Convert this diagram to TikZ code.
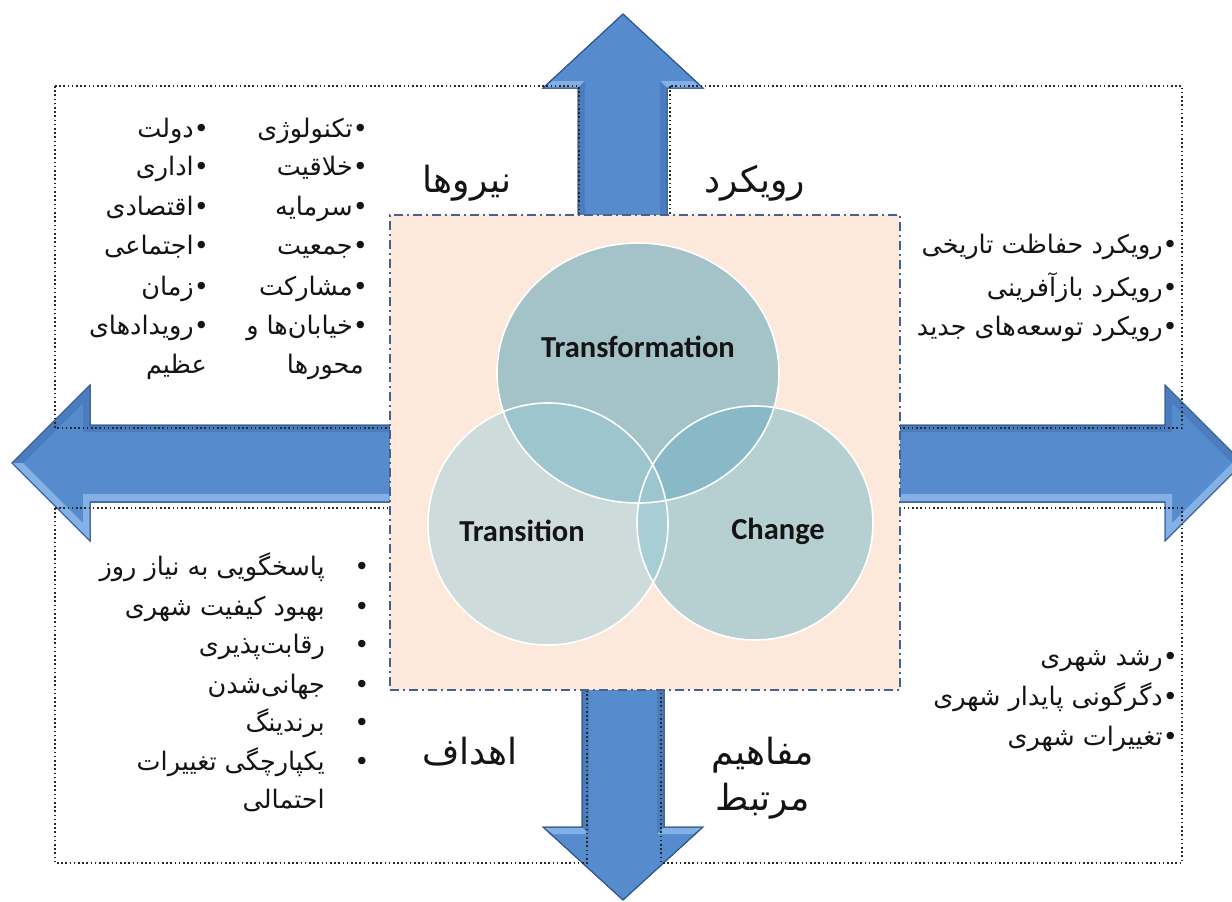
\documentclass[tikz,border=0pt]{standalone}
\usepackage{fontspec}
\usetikzlibrary{shapes.geometric}
\TeXXeTstate=1
\newfontfamily\fa[Script=Arabic]{DejaVu Sans}
\newfontfamily\lat{Carlito}
\newcommand\RL[1]{\beginR #1\endR}
\definecolor{peach}{RGB}{252,233,219}
\definecolor{sqborder}{RGB}{68,98,140}
\definecolor{arrowblue}{RGB}{86,139,205}
\definecolor{arrowdark}{RGB}{50,88,145}
\definecolor{beveldark}{RGB}{74,124,190}
\definecolor{bevellight}{RGB}{132,176,230}
\definecolor{quadline}{RGB}{40,40,40}
\definecolor{tfcol}{RGB}{164,195,200}
\definecolor{trcol}{RGB}{205,219,218}
\definecolor{chcol}{RGB}{182,208,210}
\definecolor{tftr}{RGB}{157,197,206}
\definecolor{tfch}{RGB}{137,185,198}
\definecolor{trch}{RGB}{169,205,213}
\definecolor{tri}{RGB}{157,198,206}
\tikzset{
  arrowbody/.style={fill=arrowblue, draw=arrowdark, line width=1pt, line join=miter},
  arrowedge/.style={draw=arrowdark, line width=1pt, line join=miter},
  bevdark/.style={fill=beveldark},
  bevlight/.style={fill=bevellight},
  quad/.style={draw=quadline, line width=1.8pt, dash pattern=on 1.6pt off 2.6pt},
  core/.style={rectangle, fill=peach, draw=sqborder, line width=1.8pt, dash pattern=on 9pt off 4pt on 2pt off 4pt, inner sep=0pt},
  vennring/.style={ellipse, draw=white, line width=1.6pt, inner sep=0pt},
  venntxt/.style={font=\lat\bfseries\fontsize{30.5}{34}\selectfont, text=black!92},
  falist/.style={font=\fa\fontsize{25.5}{30}\selectfont, text=black!92, inner sep=0pt, anchor=base east},
  fadot/.style={font=\fa\fontsize{25.5}{30}\selectfont, text=black!92, inner sep=0pt, anchor=base},
  fahead/.style={font=\fa\fontsize{36}{40}\selectfont, text=black!92, inner sep=0pt, anchor=base},
}
\begin{document}
\begin{tikzpicture}[x=1pt,y=-1pt]
\useasboundingbox (0,0) rectangle (1232,902);
\clip (0,0) rectangle (1232,902);
% ---------- left arrow
\draw[arrowbody] (12,463) -- (90,385) -- (90,425) -- (400,425) -- (400,502) -- (90,502) -- (90,541) -- cycle;
\fill[bevdark] (400,426) -- (90,426) -- (90,386) -- (13,463) -- (23,463) -- (83,403) -- (83,432) -- (400,432) -- cycle;
\fill[bevlight] (400,501) -- (90,501) -- (90,540) -- (13,463) -- (23,463) -- (83,523) -- (83,494) -- (400,494) -- cycle;
\draw[arrowedge] (400,425) -- (90,425) -- (90,385) -- (12,463) -- (90,541) -- (90,502) -- (400,502);
% ---------- right arrow
\draw[arrowbody] (1243,463) -- (1165,385) -- (1165,425) -- (855,425) -- (855,502) -- (1165,502) -- (1165,541) -- cycle;
\fill[bevdark] (855,426) -- (1165,426) -- (1165,386) -- (1242,463) -- (1232,463) -- (1172,403) -- (1172,432) -- (855,432) -- cycle;
\fill[bevlight] (855,501) -- (1165,501) -- (1165,540) -- (1242,463) -- (1232,463) -- (1172,523) -- (1172,494) -- (855,494) -- cycle;
\draw[arrowedge] (855,425) -- (1165,425) -- (1165,385) -- (1243,463) -- (1165,541) -- (1165,502) -- (855,502);
% ---------- top arrow
\draw[arrowbody] (623,14) -- (703,88) -- (667,88) -- (667,230) -- (578,230) -- (578,88) -- (543,88) -- cycle;
\fill[bevlight] (544,87.5) -- (578,87.5) -- (585,81) -- (553,81) -- cycle;
\fill[bevlight] (702,87.5) -- (667,87.5) -- (660,81) -- (693,81) -- cycle;
\fill[bevdark] (578.5,88) -- (585,81) -- (585,230) -- (578.5,230) -- cycle;
\fill[bevdark] (666.5,88) -- (660,81) -- (660,230) -- (666.5,230) -- cycle;
\draw[arrowedge] (578,230) -- (578,88) -- (543,88) -- (623,14) -- (703,88) -- (667,88) -- (667,230);
% ---------- bottom arrow
\draw[arrowbody] (623,900) -- (703,827) -- (664,827) -- (664,680) -- (582,680) -- (582,827) -- (543,827) -- cycle;
\fill[bevlight] (544,827.5) -- (582,827.5) -- (589,834) -- (553,834) -- cycle;
\fill[bevlight] (702,827.5) -- (664,827.5) -- (657,834) -- (693,834) -- cycle;
\fill[bevdark] (582.5,680) -- (589,680) -- (589,834) -- (582.5,827) -- cycle;
\fill[bevdark] (663.5,680) -- (657,680) -- (657,834) -- (663.5,827) -- cycle;
\draw[arrowedge] (582,680) -- (582,827) -- (543,827) -- (623,900) -- (703,827) -- (664,827) -- (664,680);
% ---------- quadrant frames
\draw[quad] (55,86) rectangle (579,428);
\draw[quad] (670,86) rectangle (1182,428);
\draw[quad] (55,508) rectangle (587,863);
\draw[quad] (661,508) rectangle (1182,863);
% ---------- central square
\node[core, minimum width=510pt, minimum height=475pt] (core) at (645,452.5) {};
% ---------- venn fills
\fill[trcol] (548,524) ellipse [x radius=120, y radius=121];
\fill[chcol] (755,523) ellipse [x radius=118, y radius=117];
\fill[tfcol] (638,373) ellipse [x radius=141, y radius=130];
\begin{scope}
  \clip (548,524) ellipse [x radius=120, y radius=121];
  \fill[tftr] (638,373) ellipse [x radius=141, y radius=130];
  \fill[trch] (755,523) ellipse [x radius=118, y radius=117];
\end{scope}
\begin{scope}
  \clip (755,523) ellipse [x radius=118, y radius=117];
  \fill[tfch] (638,373) ellipse [x radius=141, y radius=130];
\end{scope}
\begin{scope}
  \clip (548,524) ellipse [x radius=120, y radius=121];
  \clip (755,523) ellipse [x radius=118, y radius=117];
  \fill[tri] (638,373) ellipse [x radius=141, y radius=130];
\end{scope}
\node[vennring, minimum width=240pt, minimum height=242pt] (transition) at (548,524) {};
\node[vennring, minimum width=236pt, minimum height=234pt] (change) at (755,523) {};
\node[vennring, minimum width=282pt, minimum height=260pt] (transformation) at (638,373) {};
\node[venntxt] (tftext) at (638,347) {Transformation};
\node[venntxt] (trtext) at (522,531) {Transition};
\node[venntxt] (chtext) at (778,531) {Change};
% ---------- headings
\node[fahead] (h1) at (467,192) {\RL{نیروها}};
\node[fahead] (h2) at (755,192) {\RL{رویکرد}};
\node[fahead] (h3) at (470,764) {\RL{اهداف}};
\node[fahead] (h4) at (763,764) {\RL{مفاهیم}};
\node[fahead] (h5) at (763,810) {\RL{مرتبط}};
% ---------- top-left column 1
\node[falist] (a1) at (368,137.5) {\RL{•تکنولوژی}};
\node[falist] (a2) at (368,175.5) {\RL{•خلاقیت}};
\node[falist] (a3) at (368,215.5) {\RL{•سرمایه}};
\node[falist] (a4) at (368,254.5) {\RL{•جمعیت}};
\node[falist] (a5) at (368,295.5) {\RL{•مشارکت}};
\node[falist] (a6) at (368,334.5) {\RL{•خیابان‌ها و}};
\node[falist] (a7) at (364,373.5) {\RL{محورها}};
% ---------- top-left column 2
\node[falist] (b1) at (209,137.5) {\RL{•دولت}};
\node[falist] (b2) at (209,175.5) {\RL{•اداری}};
\node[falist] (b3) at (209,215.5) {\RL{•اقتصادی}};
\node[falist] (b4) at (209,254.5) {\RL{•اجتماعی}};
\node[falist] (b5) at (209,295.5) {\RL{•زمان}};
\node[falist] (b6) at (209,334.5) {\RL{•رویدادهای}};
\node[falist] (b7) at (207,373.5) {\RL{عظیم}};
% ---------- top-right
\node[falist] (c1) at (1178,253.5) {\RL{•رویکرد حفاظت تاریخی}};
\node[falist] (c2) at (1178,296.5) {\RL{•رویکرد بازآفرینی}};
\node[falist] (c3) at (1178,335.5) {\RL{•رویکرد توسعه‌های جدید}};
% ---------- bottom-left
\foreach \yy [count=\i] in {575.5,615.5,653.5,693.5,731.5,770.5} {
  \node[fadot] (dot\i) at (362,\yy) {•};
}
\node[falist] (d1) at (325,575.5) {\RL{پاسخگویی به نیاز روز}};
\node[falist] (d2) at (325,615.5) {\RL{بهبود کیفیت شهری}};
\node[falist] (d3) at (325,653.5) {\RL{رقابت‌پذیری}};
\node[falist] (d4) at (325,693.5) {\RL{جهانی‌شدن}};
\node[falist] (d5) at (325,731.5) {\RL{برندینگ}};
\node[falist] (d6) at (325,770.5) {\RL{یکپارچگی تغییرات}};
\node[falist] (d7) at (325,808.5) {\RL{احتمالی}};
% ---------- bottom-right
\node[falist] (e1) at (1178,665.5) {\RL{•رشد شهری}};
\node[falist] (e2) at (1178,705.5) {\RL{•دگرگونی پایدار شهری}};
\node[falist] (e3) at (1178,745.5) {\RL{•تغییرات شهری}};
\end{tikzpicture}
\end{document}
